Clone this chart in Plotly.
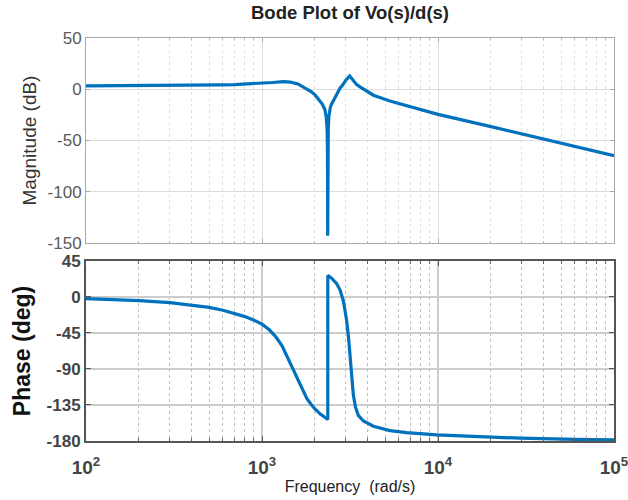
import plotly.graph_objects as go

# ---- data ----
mag_freq = [100, 150, 200, 300, 400, 500, 600, 700, 800, 1000, 1150, 1320, 1450, 1600,
            1750, 1900, 2000, 2135, 2200, 2280, 2320, 2345, 2356, 2362, 2368, 2380, 2400,
            2450, 2500, 2600, 2700, 2775, 2900, 3000, 3150, 3300, 3450, 3606, 4295, 5330,
            6630, 8260, 10000, 20000, 50000, 100000]
mag_db = [3.3, 3.4, 3.5, 3.6, 3.8, 4.0, 4.3, 4.6, 5.0, 5.7, 6.6, 7.4, 7.0, 5.2,
          1.5, -2.3, -5.5, -12.0, -14.5, -20.0, -28.0, -40.0, -65.0, -143.0, -65.0, -38.0, -26.0,
          -17.0, -13.7, -8.0, -3.0, 1.0, 5.0, 9.0, 13.0, 8.0, 4.5, 2.3, -5.8, -11.5,
          -16.0, -20.7, -24.5, -36.5, -52.5, -64.7]

ph_freq = [100, 150, 200, 300, 400, 500, 600, 700, 800, 900, 1000, 1100, 1200, 1300,
           1400, 1507, 1600, 1700, 1800, 1900, 2000, 2135, 2250, 2365, 2365, 2500, 2650,
           2775, 2900, 3025, 3100, 3162, 3230, 3305, 3400, 3526, 3770, 4295, 5330, 6630,
           9800, 15800, 29200, 60000, 100000]
ph_deg = [-2, -3, -4.5, -7, -10, -13, -16.5, -20.5, -24.5, -29, -34, -41, -50, -61,
          -76, -92, -105, -117, -127, -134, -140, -146, -150, -153, 27, 23, 17,
          9, -5, -29, -50, -75, -100, -123, -138, -148, -155, -161.5, -167, -169.5,
          -172.3, -174.5, -176.5, -178, -178.5]

x_major = [100, 1000, 10000, 100000]
x_major_text = ["10<sup>2</sup>", "10<sup>3</sup>", "10<sup>4</sup>", "10<sup>5</sup>"]
x_minor = [m * d for d in (100, 1000, 10000) for m in range(2, 10)]
mag_ticks = [-150, -100, -50, 0, 50]
mag_ticktext = ["-150", "-100", "-50", "0", "50"]
ph_ticks = [-180, -135, -90, -45, 0, 45]
ph_ticktext = ["-180", "-135", "-90", "-45", "0", "45"]

FONT = "Liberation Sans, Arial, sans-serif"
LINE = "#0072BD"

fig = go.Figure()
fig.add_trace(go.Scatter(x=mag_freq, y=mag_db, mode="lines", xaxis="x", yaxis="y",
                         line=dict(color=LINE, width=3.2), showlegend=False))
fig.add_trace(go.Scatter(x=ph_freq, y=ph_deg, mode="lines", xaxis="x2", yaxis="y2",
                         line=dict(color=LINE, width=3.2), showlegend=False))

fig.update_layout(
    width=628, height=500,
    margin=dict(l=86, r=14, t=38, b=59),
    paper_bgcolor="white", plot_bgcolor="white",
    font=dict(family=FONT),
    title=dict(text="<b>Bode Plot of Vo(s)/d(s)</b>", x=350 / 628, xanchor="center",
               y=1 - 13 / 500, yanchor="middle", font=dict(size=18.5, color="#222")),
    xaxis=dict(type="log", range=[2, 5], domain=[0, 1], anchor="y", automargin=False,
               tickvals=x_major, showticklabels=False,
               showgrid=True, gridcolor="#dcdcdc", gridwidth=1,
               showline=True, linecolor="#a8a8a8", linewidth=1, mirror="allticks",
               ticks="inside", ticklen=4, tickcolor="#a8a8a8",
               minor=dict(tickvals=x_minor, showgrid=True, griddash="dot",
                          gridcolor="#e0e0e0", gridwidth=1, ticks="inside", ticklen=2,
                          tickcolor="#b8b8b8"),
               zeroline=False),
    yaxis=dict(range=[-150, 50], domain=[0.4913, 1], anchor="x", automargin=False,
               tickvals=mag_ticks, ticktext=mag_ticktext,
               showgrid=True, gridcolor="#dcdcdc", gridwidth=1,
               showline=True, linecolor="#a8a8a8", linewidth=1, mirror="allticks",
               ticks="inside", ticklen=4, tickcolor="#a8a8a8",
               tickfont=dict(size=17, color="#5a5a5a"), zeroline=False,
               title=dict(text="Magnitude (dB)", font=dict(size=19, color="#333"), standoff=5)),
    xaxis2=dict(type="log", range=[2, 5], domain=[0, 1], anchor="y2", automargin=False,
                tickvals=x_major, ticktext=x_major_text, ticklabelstandoff=8,
                ticklabeloverflow="allow",
                tickfont=dict(size=19, color="#444", weight="bold"),
                showgrid=True, gridcolor="#cccccc", gridwidth=1.5,
                showline=True, linecolor="#555", linewidth=2, mirror="allticks",
                ticks="inside", ticklen=5, tickcolor="#555",
                minor=dict(tickvals=x_minor, showgrid=True, griddash="dot",
                           gridcolor="#c0c0c0", gridwidth=1, ticks="inside", ticklen=3,
                           tickcolor="#666"),
                zeroline=False,
                title=dict(text="Frequency  (rad/s)", font=dict(size=16, color="#222"), standoff=4)),
    yaxis2=dict(range=[-180, 45], domain=[0, 0.4467], anchor="x2", automargin=False,
                tickvals=ph_ticks, ticktext=ph_ticktext,
                showgrid=True, gridcolor="#cccccc", gridwidth=1.5,
                showline=True, linecolor="#555", linewidth=2, mirror="allticks",
                ticks="inside", ticklen=5, tickcolor="#555",
                tickfont=dict(size=17, color="#444", weight="bold"), zeroline=False,
                title=dict(text="Phase (deg)", font=dict(size=23, color="#111", weight="bold"),
                           standoff=10)),
)

fig.write_html("out.html")
